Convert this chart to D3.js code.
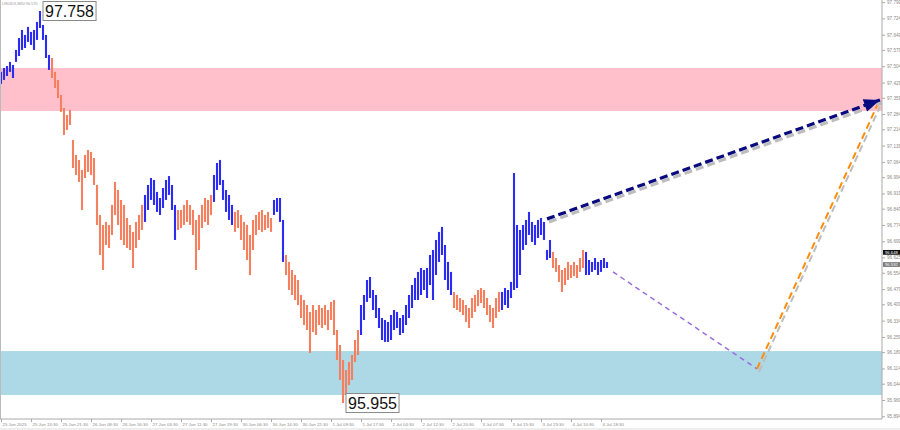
<!DOCTYPE html>
<html><head><meta charset="utf-8">
<script src="https://cdn.jsdelivr.net/npm/d3@7"></script>
<style>body{margin:0;background:#fff;} svg{display:block;font-family:Arial,"Liberation Sans",sans-serif;}</style>
</head><body><svg id="c" width="900" height="430"></svg>
<script>
// ---- data (M30 bars: high / low) ----
const highs = [97.478,97.496,97.505,97.524,97.510,97.579,97.634,97.671,97.648,97.685,
97.662,97.671,97.708,97.758,97.694,97.648,97.556,97.542,97.478,97.441,
97.372,97.312,97.280,97.303,97.165,97.096,97.073,97.027,97.096,97.119,
97.110,97.082,96.958,96.820,96.774,96.788,96.774,96.866,96.972,96.935,
96.889,96.866,96.806,96.774,96.742,96.788,96.820,96.866,96.912,96.958,
96.990,96.981,96.926,96.898,96.944,96.981,96.999,96.958,96.866,96.843,
96.843,96.866,96.889,96.866,96.843,96.797,96.820,96.866,96.898,96.889,
96.912,97.004,97.059,97.073,96.981,96.935,96.912,96.866,96.834,96.843,
96.820,96.788,96.774,96.728,96.797,96.820,96.834,96.843,96.820,96.834,
96.806,96.889,96.898,96.898,96.797,96.636,96.604,96.567,96.544,96.521,
96.452,96.429,96.406,96.374,96.406,96.383,96.406,96.392,96.406,96.383,
96.420,96.429,96.291,96.222,96.153,96.107,96.144,96.176,96.245,96.291,
96.406,96.452,96.521,96.535,96.475,96.452,96.392,96.346,96.337,96.328,
96.360,96.383,96.374,96.346,96.360,96.406,96.452,96.498,96.530,96.558,
96.576,96.567,96.576,96.636,96.659,96.705,96.742,96.765,96.682,96.604,
96.558,96.466,96.452,96.438,96.429,96.406,96.392,96.438,96.452,96.475,
96.484,96.475,96.438,96.406,96.392,96.438,96.466,96.466,96.484,96.475,
96.512,97.013,96.774,96.751,96.774,96.797,96.834,96.788,96.774,96.797,
96.806,96.788,96.659,96.705,96.650,96.622,96.590,96.567,96.576,96.604,
96.590,96.604,96.590,96.622,96.659,96.650,96.613,96.604,96.622,96.604,
96.613,96.622,96.604];
const lows = [97.423,97.441,97.459,97.478,97.450,97.524,97.551,97.579,97.588,97.616,
97.602,97.579,97.625,97.680,97.625,97.542,97.487,97.450,97.404,97.358,
97.294,97.188,97.211,97.234,97.036,97.004,96.972,96.843,96.990,97.018,
97.004,96.958,96.774,96.636,96.567,96.682,96.668,96.728,96.820,96.774,
96.705,96.682,96.668,96.659,96.576,96.668,96.705,96.751,96.788,96.843,
96.889,96.866,96.834,96.820,96.852,96.889,96.912,96.843,96.705,96.751,
96.760,96.774,96.788,96.774,96.728,96.567,96.659,96.760,96.788,96.774,
96.820,96.880,96.935,96.958,96.889,96.834,96.797,96.774,96.742,96.760,
96.705,96.659,96.613,96.544,96.659,96.728,96.751,96.742,96.751,96.760,
96.742,96.820,96.834,96.788,96.604,96.544,96.475,96.452,96.429,96.406,
96.346,96.314,96.291,96.185,96.282,96.268,96.314,96.300,96.314,96.291,
96.337,96.268,96.153,96.061,95.955,95.992,96.038,96.061,96.144,96.176,
96.268,96.337,96.420,96.438,96.383,96.346,96.300,96.245,96.236,96.236,
96.245,96.291,96.300,96.268,96.277,96.314,96.346,96.392,96.429,96.429,
96.452,96.475,96.438,96.498,96.429,96.544,96.604,96.636,96.521,96.475,
96.452,96.392,96.383,96.374,96.360,96.328,96.300,96.346,96.374,96.401,
96.415,96.392,96.360,96.328,96.300,96.346,96.374,96.383,96.406,96.392,
96.438,96.475,96.484,96.544,96.659,96.682,96.728,96.696,96.682,96.714,
96.728,96.705,96.613,96.622,96.576,96.558,96.512,96.466,96.498,96.521,
96.530,96.539,96.530,96.558,96.576,96.544,96.544,96.558,96.567,96.544,
96.558,96.576,96.576];
// wave segments: first bar index of each wave and its direction
const waveStarts = [0,17,48,59,71,78,91,95,120,151,167,184,195];
const waveDirs = ["up","down","up","down","up","down","up","down","up","down","up","down","up"];
// time axis
const timeLabelIdx = [0,10,20,30,40,50,60,70,80,90,100,110,120,130,140,150,160,170,180,190,200];
const timeLabels = ["25 Jun 2025","25 Jun 13:30","25 Jun 21:30","26 Jun 08:30","26 Jun 16:30","27 Jun 03:30",
"27 Jun 11:30","27 Jun 19:30","30 Jun 06:30","30 Jun 14:30","30 Jun 22:30","1 Jul 09:30","1 Jul 17:30",
"2 Jul 04:30","2 Jul 12:30","2 Jul 20:30","3 Jul 07:30","3 Jul 15:30","3 Jul 23:30","4 Jul 10:30","4 Jul 18:30"];
// price axis
const priceTicks = [97.799,97.724,97.649,97.579,97.504,97.429,97.359,97.284,97.214,97.139,97.064,96.994,96.919,
96.849,96.774,96.699,96.625,96.554,96.479,96.409,96.334,96.259,96.189,96.114,96.044,95.969,95.894];
// zones
const resistanceZone = [97.298, 97.496];
const supportZone = [95.992, 96.194];
// extreme labels
const extremeIdx = [13, 114];
const extremeVals = [97.758, 95.955];
// forecast lines [barIndex, price]
const forecastUp = [[182, 96.802], [293, 97.349]];
const forecastDown = [[204, 96.558], [252, 96.112]];
const forecastRebound = [[252, 96.112], [292.3, 97.331]];
const lastPrices = [96.648, 96.592];
const title = "USDIDX,M30 96.570";

// ---- drawing ----
const svg = d3.select("#c");
const W = 900, H = 430, plotR = 882, plotB = 419;
const x = d3.scaleLinear().domain([0, 202]).range([1, 607]);
const y = d3.scaleLinear().domain([95.894, 97.799]).range([416.3, 2.1]);
const colors = {up: "#2b2bf2", down: "#f4805f"};

svg.append("rect").attr("width", W).attr("height", H).attr("fill", "#fff");

// zones
[[resistanceZone, "#ffc0cb"], [supportZone, "#add8e6"]].forEach(([z, c]) => {
  svg.append("rect").attr("x", 0).attr("width", plotR)
    .attr("y", y(z[1])).attr("height", y(z[0]) - y(z[1])).attr("fill", c);
});

// bars
const dirOf = i => { let k = 0; for (let j = 0; j < waveStarts.length; j++) if (i >= waveStarts[j]) k = j; return waveDirs[k]; };
svg.append("g").selectAll("line").data(highs).join("line")
  .attr("x1", (d, i) => x(i)).attr("x2", (d, i) => x(i))
  .attr("y1", d => y(d)).attr("y2", (d, i) => y(lows[i]))
  .attr("stroke", (d, i) => colors[dirOf(i)]).attr("stroke-width", 2.1);

// forecast lines
function fline(pts, color, w, dash, shadow, arrow) {
  const g = svg.append("g");
  const line = d3.line().x(d => x(d[0])).y(d => y(d[1]));
  if (shadow) g.append("path").attr("d", line(pts)).attr("transform", "translate(2,3)")
    .attr("fill", "none").attr("stroke", "#bdbdbd").attr("stroke-width", w).attr("stroke-dasharray", dash);
  g.append("path").attr("d", line(pts)).attr("fill", "none").attr("stroke", color)
    .attr("stroke-width", w).attr("stroke-dasharray", dash);
  if (arrow) {
    const a = pts[pts.length - 2], b = pts[pts.length - 1];
    const x0 = x(a[0]), y0 = y(a[1]), x1 = x(b[0]), y1 = y(b[1]);
    const ang = Math.atan2(y1 - y0, x1 - x0), L = 16, Wd = 6.5;
    const bx = x1 - L * Math.cos(ang), by = y1 - L * Math.sin(ang);
    const p = [[x1, y1], [bx + Wd * Math.sin(ang), by - Wd * Math.cos(ang)], [bx - Wd * Math.sin(ang), by + Wd * Math.cos(ang)]];
    g.append("polygon").attr("points", p.map(q => q.join(",")).join(" ")).attr("fill", color);
  }
}
fline(forecastDown, "#9a6ee0", 1.5, "5,4", false, false);
fline(forecastRebound, "#ff8c0a", 2, "7,4", true, false);
fline(forecastUp, "#0a0a80", 3.2, "8,4", true, true);

// extreme labels
extremeIdx.forEach((idx, k) => {
  const g = svg.append("g").attr("transform", `translate(${x(idx) + 3},${y(extremeVals[k]) - 9.5})`);
  const t = g.append("text").attr("x", 2).attr("y", 15).attr("font-size", 16).attr("fill", "#111")
    .text(extremeVals[k].toFixed(3));
  const bb = t.node().getBBox();
  g.insert("rect", "text").attr("x", 0).attr("y", 0).attr("width", bb.width + 4).attr("height", 19)
    .attr("fill", "#fff").attr("stroke", "#888").attr("stroke-width", 1);
});

// axes frame
svg.append("line").attr("x1", 0.5).attr("x2", 0.5).attr("y1", 0).attr("y2", plotB).attr("stroke", "#bbb");
svg.append("line").attr("x1", plotR).attr("x2", plotR).attr("y1", 0).attr("y2", plotB).attr("stroke", "#aaa");
svg.append("line").attr("x1", 0).attr("x2", plotR).attr("y1", plotB).attr("y2", plotB).attr("stroke", "#aaa");
svg.append("line").attr("x1", 0).attr("x2", W).attr("y1", 429).attr("y2", 429).attr("stroke", "#ddd");

const ya = d3.axisRight(y).tickValues(priceTicks).tickFormat((d, i) => priceTicks[i].toFixed(3)).tickSize(3).tickPadding(2);
const gy = svg.append("g").attr("transform", `translate(${plotR},0)`).call(ya);
gy.select(".domain").remove();
gy.selectAll("line").attr("stroke", "#aaa");
gy.selectAll("text").attr("font-size", 4.6).attr("fill", "#8a8a8a").attr("font-family", "Arial");

const xa = d3.axisBottom(x).tickValues(timeLabelIdx).tickFormat((d, i) => timeLabels[i]).tickSize(3).tickPadding(1);
const gx = svg.append("g").attr("transform", `translate(0,${plotB})`).call(xa);
gx.select(".domain").remove();
gx.selectAll("line").attr("stroke", "#aaa");
gx.selectAll("text").attr("font-size", 4.4).attr("fill", "#8a8a8a").attr("text-anchor", "start").attr("dx", 1).attr("font-family", "Arial");

// last price boxes
lastPrices.forEach((p, k) => {
  const yy = y(p);
  svg.append("rect").attr("x", plotR + 1).attr("y", yy - 2.4).attr("width", 17).attr("height", 4.8)
    .attr("fill", k === 0 ? "#111" : "#7a7a7a");
  svg.append("text").attr("x", plotR + 3).attr("y", yy + 1.5).attr("font-size", 4.2).attr("fill", "#fff").text(p.toFixed(3));
});

// title
svg.append("text").attr("x", 2).attr("y", 5).attr("font-size", 3.8).attr("fill", "#999").text(title);
</script></body></html>
